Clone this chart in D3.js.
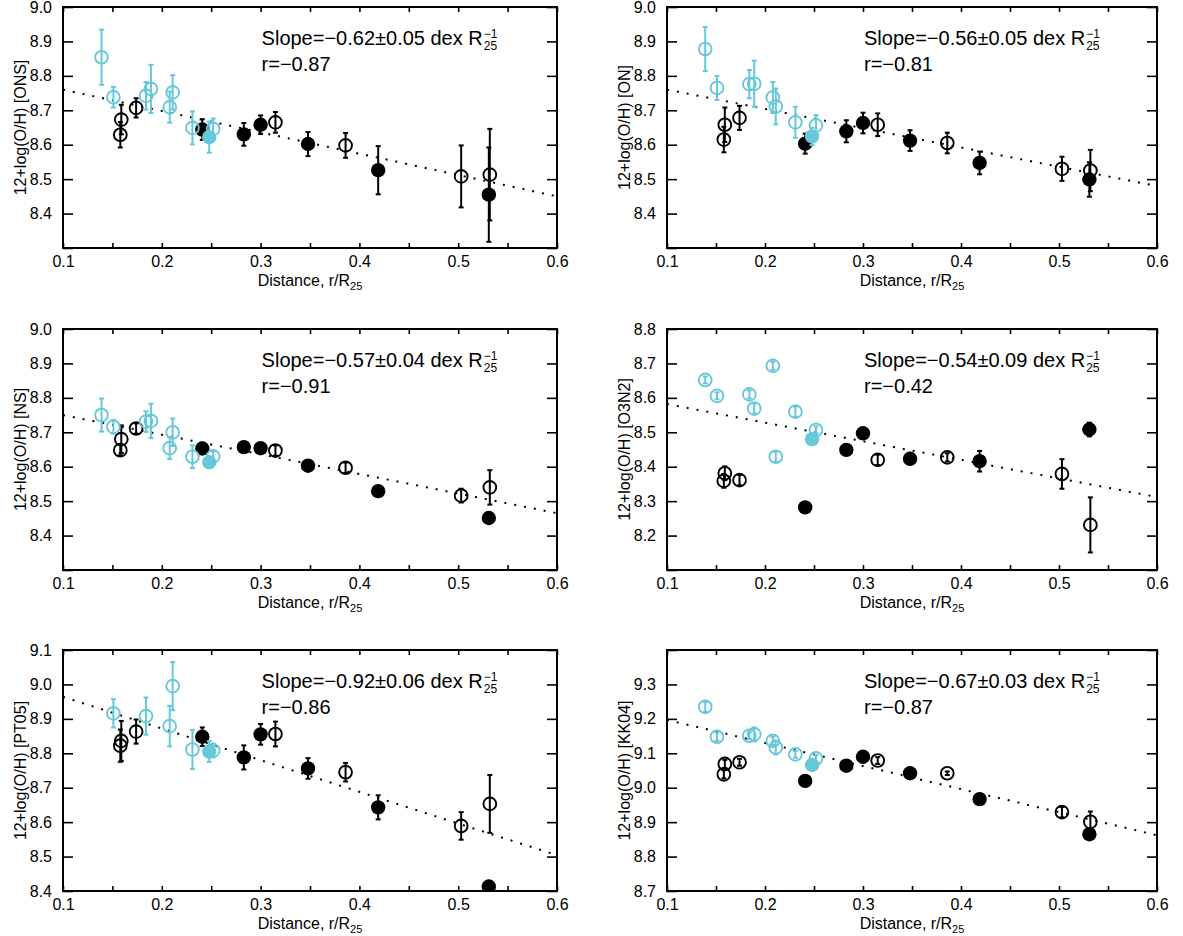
<!DOCTYPE html>
<html>
<head>
<meta charset="utf-8">
<script src="https://cdn.jsdelivr.net/npm/d3@7"></script>
<style>
  body { margin: 0; background: #fff; }
  text { font-family: "Liberation Sans", Arial, Helvetica, sans-serif; fill: #000; }
</style>
</head>
<body>
<svg id="chart" width="1183" height="936"></svg>
<script>
// Calibrations shown in each panel
const panelNames = ["ONS", "ON", "NS", "O3N2", "PT05", "KK04"];
const slopeLabels = ["\u22120.62\u00b10.05", "\u22120.56\u00b10.05", "\u22120.57\u00b10.04",
                     "\u22120.54\u00b10.09", "\u22120.92\u00b10.06", "\u22120.67\u00b10.03"];
const rLabels = ["\u22120.87", "\u22120.81", "\u22120.91", "\u22120.42", "\u22120.86", "\u22120.87"];

// Linear fits: 12+log(O/H) = intercept + slope * r/R25
const fitIntercepts = [8.822, 8.816, 8.807, 8.636, 9.056, 9.264];
const fitSlopes = [-0.62, -0.56, -0.57, -0.54, -0.92, -0.67];

// Axis ranges and labelled y ticks
const xDomain = [0.1, 0.6];
const xMajorTicks = [0.1, 0.2, 0.3, 0.4, 0.5, 0.6];
const xMinorTicks = [0.15, 0.25, 0.35, 0.45, 0.55];
const yDomains = [[8.3, 9.0], [8.3, 9.0], [8.3, 9.0], [8.1, 8.8], [8.4, 9.1], [8.7, 9.4]];
const yTickLabels = [
  [8.4, 8.5, 8.6, 8.7, 8.8, 8.9, 9.0],
  [8.4, 8.5, 8.6, 8.7, 8.8, 8.9, 9.0],
  [8.4, 8.5, 8.6, 8.7, 8.8, 8.9, 9.0],
  [8.2, 8.3, 8.4, 8.5, 8.6, 8.7, 8.8],
  [8.4, 8.5, 8.6, 8.7, 8.8, 8.9, 9.0, 9.1],
  [8.7, 8.8, 8.9, 9.0, 9.1, 9.2, 9.3]
];

// Galactocentric distances (r/R25) of each group of regions
const radiusCyanOpen = [0.139, 0.151, 0.184, 0.189, 0.208, 0.211, 0.231, 0.252];
const radiusCyanFilled = [0.248];
const radiusBlackOpen = [0.159, 0.158, 0.174, 0.315, 0.386, 0.503, 0.532];
const radiusBlackFilled = [0.241, 0.283, 0.300, 0.348, 0.419, 0.531];

// Oxygen abundances, one row per calibration (null = not available)
const cyanOpenOH = [
  [8.854, 8.738, 8.742, 8.762, 8.709, 8.752, 8.649, 8.646],
  [8.878, 8.765, 8.776, 8.777, 8.737, 8.711, 8.665, 8.656],
  [8.750, 8.716, 8.731, 8.733, 8.654, 8.700, 8.629, 8.630],
  [8.652, 8.606, 8.610, 8.569, 8.693, 8.429, 8.560, 8.507],
  [null, 8.916, 8.908, null, 8.879, 8.995, 8.811, 8.808],
  [9.235, 9.148, 9.151, 9.155, 9.136, 9.117, 9.097, 9.085]
];
const cyanOpenErr = [
  [0.080, 0.030, 0.040, 0.070, 0.045, 0.050, 0.048, 0.030],
  [0.064, 0.035, 0.041, 0.067, 0.045, 0.052, 0.045, 0.030],
  [0.048, 0.020, 0.030, 0.050, 0.032, 0.040, 0.033, 0.015],
  [0.010, 0.010, 0.012, 0.015, 0.012, 0.015, 0.015, 0.010],
  [0, 0.041, 0.054, 0, 0.059, 0.070, 0.057, 0.020],
  [0.015, 0.012, 0.010, 0.020, 0.012, 0.020, 0.010, 0.010]
];
const cyanFilledOH = [[8.622], [8.624], [8.613], [8.480], [8.805], [9.066]];
const cyanFilledErr = [[0.045], [0.025], [0.010], [0.008], [0.030], [0.008]];

const blackOpenOH = [
  [8.673, 8.629, 8.707, 8.665, 8.598, 8.508, 8.513],
  [8.658, 8.615, 8.678, 8.658, 8.605, 8.530, 8.525],
  [8.680, 8.648, 8.711, 8.647, 8.597, 8.516, 8.540],
  [8.381, 8.359, 8.361, 8.420, 8.427, 8.379, 8.231],
  [8.836, 8.822, 8.863, 8.856, 8.745, 8.589, 8.653],
  [9.069, 9.039, 9.074, 9.079, 9.042, 8.929, 8.901]
];
const blackOpenErr = [
  [0.043, 0.037, 0.028, 0.030, 0.036, 0.090, 0.133],
  [0.050, 0.037, 0.035, 0.033, 0.030, 0.035, 0.060],
  [0.040, 0.015, 0.015, 0.015, 0.015, 0.020, 0.050],
  [0.020, 0.020, 0.015, 0.015, 0.012, 0.043, 0.080],
  [0.058, 0.047, 0.035, 0.036, 0.027, 0.040, 0.084],
  [0.012, 0.012, 0.010, 0.010, 0.005, 0.015, 0.030]
];
const blackFilledOH = [
  [8.644, 8.630, 8.658, 8.602, 8.526, 8.455],
  [8.603, 8.639, 8.663, 8.612, 8.547, 8.499],
  [8.653, 8.657, 8.654, 8.603, 8.529, 8.451],
  [8.282, 8.449, 8.497, 8.423, 8.416, 8.508],
  [8.848, 8.788, 8.855, 8.756, 8.643, 8.413],
  [9.020, 9.064, 9.090, 9.042, 8.967, 8.865]
];
const blackFilledErr = [
  [0.030, 0.033, 0.027, 0.035, 0.070, 0.137],
  [0.029, 0.032, 0.030, 0.030, 0.033, 0.050],
  [0.010, 0.015, 0.010, 0.010, 0.010, 0.010],
  [0.008, 0.010, 0.010, 0.010, 0.030, 0.020],
  [0.027, 0.035, 0.030, 0.030, 0.035, 0.013],
  [0.005, 0.005, 0.005, 0.005, 0.005, 0.005]
];

const CYAN = "#67c8da";
const svg = d3.select("#chart");
const cols = [[63, 557], [667, 1157]];
const rows = [[7, 248], [329, 570], [650, 891]];

function group(radii, oh, err, color, filled) {
  return { color, filled, pts: radii.map((r, k) => ({ r, v: oh[k], e: err[k] })).filter(d => d.v != null) };
}

panelNames.forEach((name, i) => {
  const [x0, x1] = cols[i % 2];
  const [y0, y1] = rows[Math.floor(i / 2)];
  const x = d3.scaleLinear().domain(xDomain).range([x0, x1]);
  const y = d3.scaleLinear().domain(yDomains[i]).range([y1, y0]);
  const g = svg.append("g");

  const clipId = "clip" + i;
  svg.append("clipPath").attr("id", clipId)
    .append("rect").attr("x", x0).attr("y", y0).attr("width", x1 - x0).attr("height", y1 - y0);

  // y ticks every 0.1 across the range
  const yTicks = d3.range(Math.round(yDomains[i][0] * 10), Math.round(yDomains[i][1] * 10) + 1).map(t => t / 10);
  const labelled = new Set(yTickLabels[i].map(v => v.toFixed(1)));

  // bottom axis with labels
  g.append("g").attr("transform", `translate(0,${y1})`)
    .call(d3.axisBottom(x).tickValues(xMajorTicks).tickSizeInner(-5).tickSizeOuter(0)
      .tickPadding(8).tickFormat(d3.format(".1f")));
  g.append("g").attr("transform", `translate(0,${y1})`)
    .call(d3.axisBottom(x).tickValues(xMinorTicks).tickSizeInner(-5).tickSizeOuter(0).tickFormat(""));
  // top axis
  g.append("g").attr("transform", `translate(0,${y0})`)
    .call(d3.axisTop(x).tickValues(xMajorTicks.concat(xMinorTicks)).tickSizeInner(-5).tickSizeOuter(0).tickFormat(""));
  // left axis with labels
  g.append("g").attr("transform", `translate(${x0},0)`)
    .call(d3.axisLeft(y).tickValues(yTicks).tickSizeInner(-10).tickSizeOuter(0).tickPadding(11)
      .tickFormat(v => labelled.has(v.toFixed(1)) ? v.toFixed(1) : ""));
  // right axis
  g.append("g").attr("transform", `translate(${x1},0)`)
    .call(d3.axisRight(y).tickValues(yTicks).tickSizeInner(-10).tickSizeOuter(0).tickFormat(""));

  g.selectAll(".domain").remove();
  g.selectAll(".tick line").attr("stroke", "#000").attr("stroke-width", 1.6);
  g.selectAll(".tick text").attr("font-size", 16).attr("fill", "#000");

  // frame
  g.append("rect").attr("x", x0).attr("y", y0).attr("width", x1 - x0).attr("height", y1 - y0)
    .attr("fill", "none").attr("stroke", "#000").attr("stroke-width", 2);

  // axis titles
  const xt = g.append("text").attr("x", (x0 + x1) / 2).attr("y", y1 + 38)
    .attr("text-anchor", "middle").attr("font-size", 16);
  xt.append("tspan").text("Distance, r/R");
  xt.append("tspan").attr("dy", 4).attr("font-size", 11).text("25");

  g.append("text")
    .attr("transform", `translate(${x0 - 37},${(y0 + y1) / 2}) rotate(-90)`)
    .attr("text-anchor", "middle").attr("font-size", 16)
    .text(`12+log(O/H) [${name}]`);

  // fitted gradient (dotted)
  const fit = xDomain.map(r => [r, fitIntercepts[i] + fitSlopes[i] * r]);
  g.append("path")
    .attr("clip-path", `url(#${clipId})`)
    .attr("d", d3.line().x(d => x(d[0])).y(d => y(d[1]))(fit))
    .attr("fill", "none").attr("stroke", "#000").attr("stroke-width", 2)
    .attr("stroke-dasharray", "2 8");

  // data points with error bars
  const groups = [
    group(radiusBlackFilled, blackFilledOH[i], blackFilledErr[i], "#000", true),
    group(radiusBlackOpen, blackOpenOH[i], blackOpenErr[i], "#000", false),
    group(radiusCyanOpen, cyanOpenOH[i], cyanOpenErr[i], CYAN, false),
    group(radiusCyanFilled, cyanFilledOH[i], cyanFilledErr[i], CYAN, true)
  ];
  const pg = g.append("g").attr("clip-path", `url(#${clipId})`);
  groups.forEach(gr => {
    gr.pts.forEach(d => {
      const cx = x(d.r), lo = y(d.v - d.e), hi = y(d.v + d.e);
      if (d.e > 0) {
        pg.append("line").attr("x1", cx).attr("x2", cx).attr("y1", lo).attr("y2", hi)
          .attr("stroke", gr.color).attr("stroke-width", 2);
        [lo, hi].forEach(yy => pg.append("line").attr("x1", cx - 2.5).attr("x2", cx + 2.5)
          .attr("y1", yy).attr("y2", yy).attr("stroke", gr.color).attr("stroke-width", 2));
      }
      pg.append("circle").attr("cx", cx).attr("cy", y(d.v))
        .attr("r", gr.filled ? 7.2 : 6.4)
        .attr("fill", gr.filled ? gr.color : "none")
        .attr("stroke", gr.filled ? "none" : gr.color)
        .attr("stroke-width", 1.9);
    });
  });

  // gradient annotation: unit R25^-1 with stacked super/subscript
  const tx = x(0.3) + 1, ty = y0 + 38;
  const st = g.append("text").attr("x", tx).attr("y", ty).attr("font-size", 20);
  st.append("tspan").text(`Slope=${slopeLabels[i]} dex R`);
  const sup = st.append("tspan").attr("dx", 1).attr("dy", -7).attr("font-size", 12).text("\u22121");
  const supW = sup.node().getComputedTextLength();
  st.append("tspan").attr("dx", -supW).attr("dy", 12).attr("font-size", 12).text("25");
  g.append("text").attr("x", tx).attr("y", ty + 26).attr("font-size", 20).text(`r=${rLabels[i]}`);
});
</script>
</body>
</html>
